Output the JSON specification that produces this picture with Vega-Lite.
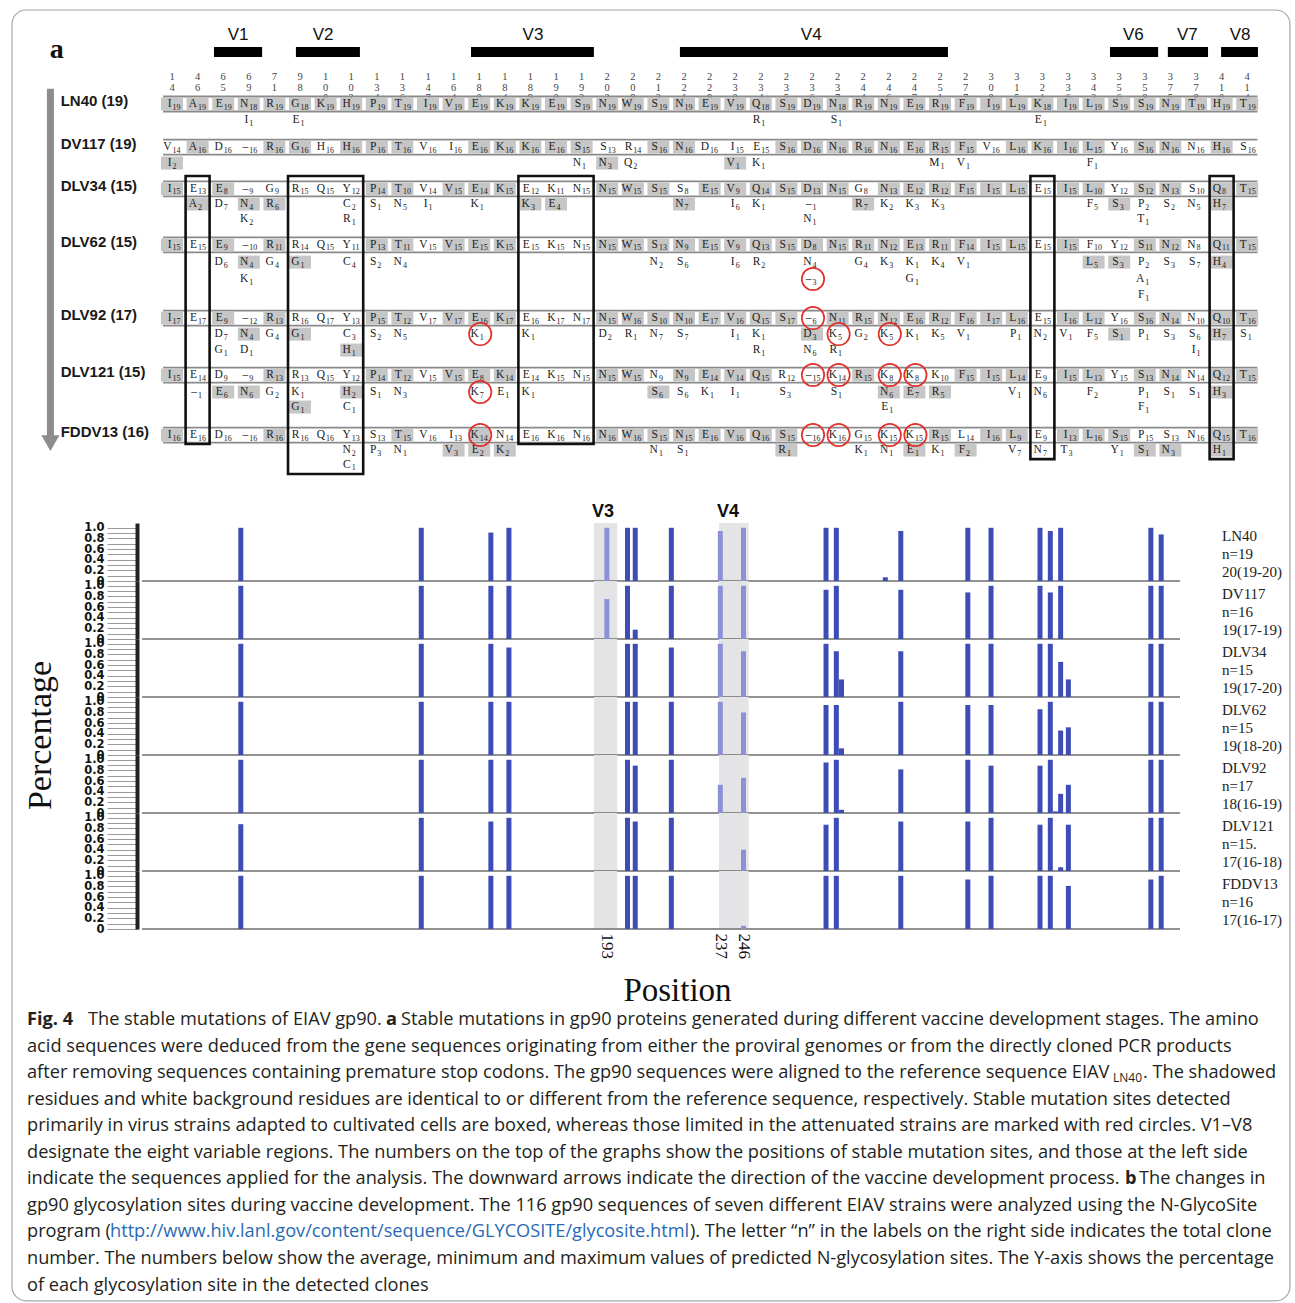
{
"$schema":"https://vega.github.io/schema/vega-lite/v6.json",
"background":"white",
"padding":0,
"spacing":0,
"bounds":"flush",
"config":{"view":{"stroke":null}},
"datasets":{
"rows":[{"lab":"LN40 (19)","l":0},{"lab":"DV117 (19)","l":2.69},{"lab":"DLV34 (15)","l":5.31},{"lab":"DLV62 (15)","l":8.81},{"lab":"DLV92 (17)","l":13.38},{"lab":"DLV121 (15)","l":16.94},{"lab":"FDDV13 (16)","l":20.69}],
"vreg":[{"v":"V1","c1":1.64,"c2":3.52,"m":2.58},{"v":"V2","c1":4.84,"c2":7.34,"m":5.9},{"v":"V3","c1":11.68,"c2":16.48,"m":14.1},{"v":"V4","c1":19.84,"c2":30.31,"m":24.97},{"v":"V6","c1":36.64,"c2":38.52,"m":37.55},{"v":"V7","c1":38.9,"c2":40.47,"m":39.66},{"v":"V8","c1":40.98,"c2":42.42,"m":41.72}],
"boxes":[{"c1":1,"c2":1,"t":5.31,"b":20.69},{"c1":5,"c2":7,"t":5.31,"b":22.56},{"c1":14,"c2":16,"t":5.31,"b":20.69},{"c1":34,"c2":34,"t":5.31,"b":21.63},{"c1":41,"c2":41,"t":5.31,"b":21.63}],
"cols":[{"c":0,"lab":"1\n4"},{"c":1,"lab":"4\n6"},{"c":2,"lab":"6\n5"},{"c":3,"lab":"6\n9"},{"c":4,"lab":"7\n1"},{"c":5,"lab":"9\n8"},{"c":6,"lab":"1\n0\n0"},{"c":7,"lab":"1\n0\n3"},{"c":8,"lab":"1\n3\n4"},{"c":9,"lab":"1\n3\n6"},{"c":10,"lab":"1\n4\n7"},{"c":11,"lab":"1\n6\n4"},{"c":12,"lab":"1\n8\n0"},{"c":13,"lab":"1\n8\n4"},{"c":14,"lab":"1\n8\n9"},{"c":15,"lab":"1\n9\n0"},{"c":16,"lab":"1\n9\n3"},{"c":17,"lab":"2\n0\n2"},{"c":18,"lab":"2\n0\n9"},{"c":19,"lab":"2\n1\n2"},{"c":20,"lab":"2\n2\n1"},{"c":21,"lab":"2\n2\n9"},{"c":22,"lab":"2\n3\n0"},{"c":23,"lab":"2\n3\n4"},{"c":24,"lab":"2\n3\n5"},{"c":25,"lab":"2\n3\n6"},{"c":26,"lab":"2\n3\n7"},{"c":27,"lab":"2\n4\n4"},{"c":28,"lab":"2\n4\n6"},{"c":29,"lab":"2\n4\n7"},{"c":30,"lab":"2\n5\n1"},{"c":31,"lab":"2\n7\n7"},{"c":32,"lab":"3\n0\n8"},{"c":33,"lab":"3\n1\n5"},{"c":34,"lab":"3\n2\n1"},{"c":35,"lab":"3\n3\n6"},{"c":36,"lab":"3\n4\n2"},{"c":37,"lab":"3\n5\n6"},{"c":38,"lab":"3\n5\n8"},{"c":39,"lab":"3\n7\n5"},{"c":40,"lab":"3\n7\n8"},{"c":41,"lab":"4\n1\n0"},{"c":42,"lab":"4\n1\n4"}],
"res":[
{"c":0,"l":0,"a":"I","n":"19","g":1},{"c":1,"l":0,"a":"A","n":"19","g":1},{"c":2,"l":0,"a":"E","n":"19","g":1},{"c":3,"l":0,"a":"N","n":"18","g":1},{"c":4,"l":0,"a":"R","n":"19","g":1},{"c":5,"l":0,"a":"G","n":"18","g":1},{"c":6,"l":0,"a":"K","n":"19","g":1},{"c":7,"l":0,"a":"H","n":"19","g":1},{"c":8,"l":0,"a":"P","n":"19","g":1},{"c":9,"l":0,"a":"T","n":"19","g":1},{"c":10,"l":0,"a":"I","n":"19","g":1},{"c":11,"l":0,"a":"V","n":"19","g":1},{"c":12,"l":0,"a":"E","n":"19","g":1},{"c":13,"l":0,"a":"K","n":"19","g":1},{"c":14,"l":0,"a":"K","n":"19","g":1},{"c":15,"l":0,"a":"E","n":"19","g":1},{"c":16,"l":0,"a":"S","n":"19","g":1},{"c":17,"l":0,"a":"N","n":"19","g":1},{"c":18,"l":0,"a":"W","n":"19","g":1},{"c":19,"l":0,"a":"S","n":"19","g":1},{"c":20,"l":0,"a":"N","n":"19","g":1},{"c":21,"l":0,"a":"E","n":"19","g":1},{"c":22,"l":0,"a":"V","n":"19","g":1},{"c":23,"l":0,"a":"Q","n":"18","g":1},{"c":24,"l":0,"a":"S","n":"19","g":1},{"c":25,"l":0,"a":"D","n":"19","g":1},{"c":26,"l":0,"a":"N","n":"18","g":1},{"c":27,"l":0,"a":"R","n":"19","g":1},{"c":28,"l":0,"a":"N","n":"19","g":1},{"c":29,"l":0,"a":"E","n":"19","g":1},{"c":30,"l":0,"a":"R","n":"19","g":1},{"c":31,"l":0,"a":"F","n":"19","g":1},{"c":32,"l":0,"a":"I","n":"19","g":1},{"c":33,"l":0,"a":"L","n":"19","g":1},{"c":34,"l":0,"a":"K","n":"18","g":1},{"c":35,"l":0,"a":"I","n":"19","g":1},{"c":36,"l":0,"a":"L","n":"19","g":1},{"c":37,"l":0,"a":"S","n":"19","g":1},{"c":38,"l":0,"a":"S","n":"19","g":1},{"c":39,"l":0,"a":"N","n":"19","g":1},{"c":40,"l":0,"a":"T","n":"19","g":1},{"c":41,"l":0,"a":"H","n":"19","g":1},{"c":42,"l":0,"a":"T","n":"19","g":1},
{"c":3,"l":1,"a":"I","n":"1"},{"c":5,"l":1,"a":"E","n":"1"},{"c":23,"l":1,"a":"R","n":"1"},{"c":26,"l":1,"a":"S","n":"1"},{"c":34,"l":1,"a":"E","n":"1"},
{"c":0,"l":2.69,"a":"V","n":"14"},{"c":1,"l":2.69,"a":"A","n":"16","g":1},{"c":2,"l":2.69,"a":"D","n":"16"},{"c":3,"l":2.69,"a":"–","n":"16"},{"c":4,"l":2.69,"a":"R","n":"16","g":1},{"c":5,"l":2.69,"a":"G","n":"16","g":1},{"c":6,"l":2.69,"a":"H","n":"16"},{"c":7,"l":2.69,"a":"H","n":"16","g":1},{"c":8,"l":2.69,"a":"P","n":"16","g":1},{"c":9,"l":2.69,"a":"T","n":"16","g":1},{"c":10,"l":2.69,"a":"V","n":"16"},{"c":11,"l":2.69,"a":"I","n":"16"},{"c":12,"l":2.69,"a":"E","n":"16","g":1},{"c":13,"l":2.69,"a":"K","n":"16","g":1},{"c":14,"l":2.69,"a":"K","n":"16","g":1},{"c":15,"l":2.69,"a":"E","n":"16","g":1},{"c":16,"l":2.69,"a":"S","n":"15","g":1},{"c":17,"l":2.69,"a":"S","n":"13"},{"c":18,"l":2.69,"a":"R","n":"14"},{"c":19,"l":2.69,"a":"S","n":"16","g":1},{"c":20,"l":2.69,"a":"N","n":"16","g":1},{"c":21,"l":2.69,"a":"D","n":"16"},{"c":22,"l":2.69,"a":"I","n":"15"},{"c":23,"l":2.69,"a":"E","n":"15"},{"c":24,"l":2.69,"a":"S","n":"16","g":1},{"c":25,"l":2.69,"a":"D","n":"16","g":1},{"c":26,"l":2.69,"a":"N","n":"16","g":1},{"c":27,"l":2.69,"a":"R","n":"16","g":1},{"c":28,"l":2.69,"a":"N","n":"16","g":1},{"c":29,"l":2.69,"a":"E","n":"16","g":1},{"c":30,"l":2.69,"a":"R","n":"15","g":1},{"c":31,"l":2.69,"a":"F","n":"15","g":1},{"c":32,"l":2.69,"a":"V","n":"16"},{"c":33,"l":2.69,"a":"L","n":"16","g":1},{"c":34,"l":2.69,"a":"K","n":"16","g":1},{"c":35,"l":2.69,"a":"I","n":"16","g":1},{"c":36,"l":2.69,"a":"L","n":"15","g":1},{"c":37,"l":2.69,"a":"Y","n":"16"},{"c":38,"l":2.69,"a":"S","n":"16","g":1},{"c":39,"l":2.69,"a":"N","n":"16","g":1},{"c":40,"l":2.69,"a":"N","n":"16"},{"c":41,"l":2.69,"a":"H","n":"16","g":1},{"c":42,"l":2.69,"a":"S","n":"16"},
{"c":0,"l":3.69,"a":"I","n":"2","g":1},{"c":16,"l":3.69,"a":"N","n":"1"},{"c":17,"l":3.69,"a":"N","n":"3","g":1},{"c":18,"l":3.69,"a":"Q","n":"2"},{"c":22,"l":3.69,"a":"V","n":"1","g":1},{"c":23,"l":3.69,"a":"K","n":"1"},{"c":30,"l":3.69,"a":"M","n":"1"},{"c":31,"l":3.69,"a":"V","n":"1"},{"c":36,"l":3.69,"a":"F","n":"1"},
{"c":0,"l":5.31,"a":"I","n":"15","g":1},{"c":1,"l":5.31,"a":"E","n":"13"},{"c":2,"l":5.31,"a":"E","n":"8","g":1},{"c":3,"l":5.31,"a":"–","n":"9"},{"c":4,"l":5.31,"a":"G","n":"9"},{"c":5,"l":5.31,"a":"R","n":"15"},{"c":6,"l":5.31,"a":"Q","n":"15"},{"c":7,"l":5.31,"a":"Y","n":"12"},{"c":8,"l":5.31,"a":"P","n":"14","g":1},{"c":9,"l":5.31,"a":"T","n":"10","g":1},{"c":10,"l":5.31,"a":"V","n":"14"},{"c":11,"l":5.31,"a":"V","n":"15","g":1},{"c":12,"l":5.31,"a":"E","n":"14","g":1},{"c":13,"l":5.31,"a":"K","n":"15","g":1},{"c":14,"l":5.31,"a":"E","n":"12"},{"c":15,"l":5.31,"a":"K","n":"11"},{"c":16,"l":5.31,"a":"N","n":"15"},{"c":17,"l":5.31,"a":"N","n":"15","g":1},{"c":18,"l":5.31,"a":"W","n":"15","g":1},{"c":19,"l":5.31,"a":"S","n":"15","g":1},{"c":20,"l":5.31,"a":"S","n":"8"},{"c":21,"l":5.31,"a":"E","n":"15","g":1},{"c":22,"l":5.31,"a":"V","n":"9","g":1},{"c":23,"l":5.31,"a":"Q","n":"14","g":1},{"c":24,"l":5.31,"a":"S","n":"15","g":1},{"c":25,"l":5.31,"a":"D","n":"13","g":1},{"c":26,"l":5.31,"a":"N","n":"15","g":1},{"c":27,"l":5.31,"a":"G","n":"8"},{"c":28,"l":5.31,"a":"N","n":"13","g":1},{"c":29,"l":5.31,"a":"E","n":"12","g":1},{"c":30,"l":5.31,"a":"R","n":"12","g":1},{"c":31,"l":5.31,"a":"F","n":"15","g":1},{"c":32,"l":5.31,"a":"I","n":"15","g":1},{"c":33,"l":5.31,"a":"L","n":"15","g":1},{"c":34,"l":5.31,"a":"E","n":"15"},{"c":35,"l":5.31,"a":"I","n":"15","g":1},{"c":36,"l":5.31,"a":"L","n":"10","g":1},{"c":37,"l":5.31,"a":"Y","n":"12"},{"c":38,"l":5.31,"a":"S","n":"12","g":1},{"c":39,"l":5.31,"a":"N","n":"13","g":1},{"c":40,"l":5.31,"a":"S","n":"10"},{"c":41,"l":5.31,"a":"Q","n":"8","g":1},{"c":42,"l":5.31,"a":"T","n":"15","g":1},
{"c":1,"l":6.25,"a":"A","n":"2","g":1},{"c":2,"l":6.25,"a":"D","n":"7"},{"c":3,"l":6.25,"a":"N","n":"4","g":1},{"c":4,"l":6.25,"a":"R","n":"6","g":1},{"c":7,"l":6.25,"a":"C","n":"2"},{"c":8,"l":6.25,"a":"S","n":"1"},{"c":9,"l":6.25,"a":"N","n":"5"},{"c":10,"l":6.25,"a":"I","n":"1"},{"c":12,"l":6.25,"a":"K","n":"1"},{"c":14,"l":6.25,"a":"K","n":"3","g":1},{"c":15,"l":6.25,"a":"E","n":"4","g":1},{"c":20,"l":6.25,"a":"N","n":"7","g":1},{"c":22,"l":6.25,"a":"I","n":"6"},{"c":23,"l":6.25,"a":"K","n":"1"},{"c":25,"l":6.25,"a":"–","n":"1"},{"c":27,"l":6.25,"a":"R","n":"7","g":1},{"c":28,"l":6.25,"a":"K","n":"2"},{"c":29,"l":6.25,"a":"K","n":"3"},{"c":30,"l":6.25,"a":"K","n":"3"},{"c":36,"l":6.25,"a":"F","n":"5"},{"c":37,"l":6.25,"a":"S","n":"3","g":1},{"c":38,"l":6.25,"a":"P","n":"2"},{"c":39,"l":6.25,"a":"S","n":"2"},{"c":40,"l":6.25,"a":"N","n":"5"},{"c":41,"l":6.25,"a":"H","n":"7","g":1},
{"c":3,"l":7.19,"a":"K","n":"2"},{"c":7,"l":7.19,"a":"R","n":"1"},{"c":25,"l":7.19,"a":"N","n":"1"},{"c":38,"l":7.19,"a":"T","n":"1"},
{"c":0,"l":8.81,"a":"I","n":"15","g":1},{"c":1,"l":8.81,"a":"E","n":"15"},{"c":2,"l":8.81,"a":"E","n":"9","g":1},{"c":3,"l":8.81,"a":"–","n":"10"},{"c":4,"l":8.81,"a":"R","n":"11","g":1},{"c":5,"l":8.81,"a":"R","n":"14"},{"c":6,"l":8.81,"a":"Q","n":"15"},{"c":7,"l":8.81,"a":"Y","n":"11"},{"c":8,"l":8.81,"a":"P","n":"13","g":1},{"c":9,"l":8.81,"a":"T","n":"11","g":1},{"c":10,"l":8.81,"a":"V","n":"15"},{"c":11,"l":8.81,"a":"V","n":"15","g":1},{"c":12,"l":8.81,"a":"E","n":"15","g":1},{"c":13,"l":8.81,"a":"K","n":"15","g":1},{"c":14,"l":8.81,"a":"E","n":"15"},{"c":15,"l":8.81,"a":"K","n":"15"},{"c":16,"l":8.81,"a":"N","n":"15"},{"c":17,"l":8.81,"a":"N","n":"15","g":1},{"c":18,"l":8.81,"a":"W","n":"15","g":1},{"c":19,"l":8.81,"a":"S","n":"13","g":1},{"c":20,"l":8.81,"a":"N","n":"9","g":1},{"c":21,"l":8.81,"a":"E","n":"15","g":1},{"c":22,"l":8.81,"a":"V","n":"9","g":1},{"c":23,"l":8.81,"a":"Q","n":"13","g":1},{"c":24,"l":8.81,"a":"S","n":"15","g":1},{"c":25,"l":8.81,"a":"D","n":"8","g":1},{"c":26,"l":8.81,"a":"N","n":"15","g":1},{"c":27,"l":8.81,"a":"R","n":"11","g":1},{"c":28,"l":8.81,"a":"N","n":"12","g":1},{"c":29,"l":8.81,"a":"E","n":"13","g":1},{"c":30,"l":8.81,"a":"R","n":"11","g":1},{"c":31,"l":8.81,"a":"F","n":"14","g":1},{"c":32,"l":8.81,"a":"I","n":"15","g":1},{"c":33,"l":8.81,"a":"L","n":"15","g":1},{"c":34,"l":8.81,"a":"E","n":"15"},{"c":35,"l":8.81,"a":"I","n":"15","g":1},{"c":36,"l":8.81,"a":"F","n":"10"},{"c":37,"l":8.81,"a":"Y","n":"12"},{"c":38,"l":8.81,"a":"S","n":"11","g":1},{"c":39,"l":8.81,"a":"N","n":"12","g":1},{"c":40,"l":8.81,"a":"N","n":"8"},{"c":41,"l":8.81,"a":"Q","n":"11","g":1},{"c":42,"l":8.81,"a":"T","n":"15","g":1},
{"c":2,"l":9.88,"a":"D","n":"6"},{"c":3,"l":9.88,"a":"N","n":"4","g":1},{"c":4,"l":9.88,"a":"G","n":"4"},{"c":5,"l":9.88,"a":"G","n":"1","g":1},{"c":7,"l":9.88,"a":"C","n":"4"},{"c":8,"l":9.88,"a":"S","n":"2"},{"c":9,"l":9.88,"a":"N","n":"4"},{"c":19,"l":9.88,"a":"N","n":"2"},{"c":20,"l":9.88,"a":"S","n":"6"},{"c":22,"l":9.88,"a":"I","n":"6"},{"c":23,"l":9.88,"a":"R","n":"2"},{"c":25,"l":9.88,"a":"N","n":"4"},{"c":27,"l":9.88,"a":"G","n":"4"},{"c":28,"l":9.88,"a":"K","n":"3"},{"c":29,"l":9.88,"a":"K","n":"1"},{"c":30,"l":9.88,"a":"K","n":"4"},{"c":31,"l":9.88,"a":"V","n":"1"},{"c":36,"l":9.88,"a":"L","n":"5","g":1},{"c":37,"l":9.88,"a":"S","n":"3","g":1},{"c":38,"l":9.88,"a":"P","n":"2"},{"c":39,"l":9.88,"a":"S","n":"3"},{"c":40,"l":9.88,"a":"S","n":"7"},{"c":41,"l":9.88,"a":"H","n":"4","g":1},
{"c":3,"l":10.94,"a":"K","n":"1"},{"c":25,"l":10.94,"a":"–","n":"3","o":1},{"c":29,"l":10.94,"a":"G","n":"1"},{"c":38,"l":10.94,"a":"A","n":"1"},
{"c":38,"l":11.94,"a":"F","n":"1"},
{"c":0,"l":13.38,"a":"I","n":"17","g":1},{"c":1,"l":13.38,"a":"E","n":"17"},{"c":2,"l":13.38,"a":"E","n":"9","g":1},{"c":3,"l":13.38,"a":"–","n":"12"},{"c":4,"l":13.38,"a":"R","n":"13","g":1},{"c":5,"l":13.38,"a":"R","n":"16"},{"c":6,"l":13.38,"a":"Q","n":"17"},{"c":7,"l":13.38,"a":"Y","n":"13"},{"c":8,"l":13.38,"a":"P","n":"15","g":1},{"c":9,"l":13.38,"a":"T","n":"12","g":1},{"c":10,"l":13.38,"a":"V","n":"17"},{"c":11,"l":13.38,"a":"V","n":"17","g":1},{"c":12,"l":13.38,"a":"E","n":"16","g":1},{"c":13,"l":13.38,"a":"K","n":"17","g":1},{"c":14,"l":13.38,"a":"E","n":"16"},{"c":15,"l":13.38,"a":"K","n":"17"},{"c":16,"l":13.38,"a":"N","n":"17"},{"c":17,"l":13.38,"a":"N","n":"15","g":1},{"c":18,"l":13.38,"a":"W","n":"16","g":1},{"c":19,"l":13.38,"a":"S","n":"10","g":1},{"c":20,"l":13.38,"a":"N","n":"10","g":1},{"c":21,"l":13.38,"a":"E","n":"17","g":1},{"c":22,"l":13.38,"a":"V","n":"16","g":1},{"c":23,"l":13.38,"a":"Q","n":"15","g":1},{"c":24,"l":13.38,"a":"S","n":"17","g":1},{"c":25,"l":13.38,"a":"–","n":"6","o":1},{"c":26,"l":13.38,"a":"N","n":"11","g":1},{"c":27,"l":13.38,"a":"R","n":"15","g":1},{"c":28,"l":13.38,"a":"N","n":"12","g":1},{"c":29,"l":13.38,"a":"E","n":"16","g":1},{"c":30,"l":13.38,"a":"R","n":"12","g":1},{"c":31,"l":13.38,"a":"F","n":"16","g":1},{"c":32,"l":13.38,"a":"I","n":"17","g":1},{"c":33,"l":13.38,"a":"L","n":"16","g":1},{"c":34,"l":13.38,"a":"E","n":"15"},{"c":35,"l":13.38,"a":"I","n":"16","g":1},{"c":36,"l":13.38,"a":"L","n":"12","g":1},{"c":37,"l":13.38,"a":"Y","n":"16"},{"c":38,"l":13.38,"a":"S","n":"16","g":1},{"c":39,"l":13.38,"a":"N","n":"14","g":1},{"c":40,"l":13.38,"a":"N","n":"10"},{"c":41,"l":13.38,"a":"Q","n":"10","g":1},{"c":42,"l":13.38,"a":"T","n":"16","g":1},
{"c":2,"l":14.38,"a":"D","n":"7"},{"c":3,"l":14.38,"a":"N","n":"4","g":1},{"c":4,"l":14.38,"a":"G","n":"4"},{"c":5,"l":14.38,"a":"G","n":"1","g":1},{"c":7,"l":14.38,"a":"C","n":"3"},{"c":8,"l":14.38,"a":"S","n":"2"},{"c":9,"l":14.38,"a":"N","n":"5"},{"c":12,"l":14.38,"a":"K","n":"1","o":1},{"c":14,"l":14.38,"a":"K","n":"1"},{"c":17,"l":14.38,"a":"D","n":"2"},{"c":18,"l":14.38,"a":"R","n":"1"},{"c":19,"l":14.38,"a":"N","n":"7"},{"c":20,"l":14.38,"a":"S","n":"7"},{"c":22,"l":14.38,"a":"I","n":"1"},{"c":23,"l":14.38,"a":"K","n":"1"},{"c":25,"l":14.38,"a":"D","n":"3","g":1},{"c":26,"l":14.38,"a":"K","n":"5","o":1},{"c":27,"l":14.38,"a":"G","n":"2"},{"c":28,"l":14.38,"a":"K","n":"5","o":1},{"c":29,"l":14.38,"a":"K","n":"1"},{"c":30,"l":14.38,"a":"K","n":"5"},{"c":31,"l":14.38,"a":"V","n":"1"},{"c":33,"l":14.38,"a":"P","n":"1"},{"c":34,"l":14.38,"a":"N","n":"2"},{"c":35,"l":14.38,"a":"V","n":"1"},{"c":36,"l":14.38,"a":"F","n":"5"},{"c":37,"l":14.38,"a":"S","n":"1","g":1},{"c":38,"l":14.38,"a":"P","n":"1"},{"c":39,"l":14.38,"a":"S","n":"3"},{"c":40,"l":14.38,"a":"S","n":"6"},{"c":41,"l":14.38,"a":"H","n":"7","g":1},{"c":42,"l":14.38,"a":"S","n":"1"},
{"c":2,"l":15.38,"a":"G","n":"1"},{"c":3,"l":15.38,"a":"D","n":"1"},{"c":7,"l":15.38,"a":"H","n":"1","g":1},{"c":23,"l":15.38,"a":"R","n":"1"},{"c":25,"l":15.38,"a":"N","n":"6"},{"c":26,"l":15.38,"a":"R","n":"1"},{"c":40,"l":15.38,"a":"I","n":"1"},
{"c":0,"l":16.94,"a":"I","n":"15","g":1},{"c":1,"l":16.94,"a":"E","n":"14"},{"c":2,"l":16.94,"a":"D","n":"9"},{"c":3,"l":16.94,"a":"–","n":"9"},{"c":4,"l":16.94,"a":"R","n":"13","g":1},{"c":5,"l":16.94,"a":"R","n":"13"},{"c":6,"l":16.94,"a":"Q","n":"15"},{"c":7,"l":16.94,"a":"Y","n":"12"},{"c":8,"l":16.94,"a":"P","n":"14","g":1},{"c":9,"l":16.94,"a":"T","n":"12","g":1},{"c":10,"l":16.94,"a":"V","n":"15"},{"c":11,"l":16.94,"a":"V","n":"15","g":1},{"c":12,"l":16.94,"a":"E","n":"8","g":1},{"c":13,"l":16.94,"a":"K","n":"14","g":1},{"c":14,"l":16.94,"a":"E","n":"14"},{"c":15,"l":16.94,"a":"K","n":"15"},{"c":16,"l":16.94,"a":"N","n":"15"},{"c":17,"l":16.94,"a":"N","n":"15","g":1},{"c":18,"l":16.94,"a":"W","n":"15","g":1},{"c":19,"l":16.94,"a":"N","n":"9"},{"c":20,"l":16.94,"a":"N","n":"9","g":1},{"c":21,"l":16.94,"a":"E","n":"14","g":1},{"c":22,"l":16.94,"a":"V","n":"14","g":1},{"c":23,"l":16.94,"a":"Q","n":"15","g":1},{"c":24,"l":16.94,"a":"R","n":"12"},{"c":25,"l":16.94,"a":"–","n":"15","o":1},{"c":26,"l":16.94,"a":"K","n":"14","o":1},{"c":27,"l":16.94,"a":"R","n":"15","g":1},{"c":28,"l":16.94,"a":"K","n":"8","o":1},{"c":29,"l":16.94,"a":"K","n":"8","o":1},{"c":30,"l":16.94,"a":"K","n":"10"},{"c":31,"l":16.94,"a":"F","n":"15","g":1},{"c":32,"l":16.94,"a":"I","n":"15","g":1},{"c":33,"l":16.94,"a":"L","n":"14","g":1},{"c":34,"l":16.94,"a":"E","n":"9"},{"c":35,"l":16.94,"a":"I","n":"15","g":1},{"c":36,"l":16.94,"a":"L","n":"13","g":1},{"c":37,"l":16.94,"a":"Y","n":"15"},{"c":38,"l":16.94,"a":"S","n":"13","g":1},{"c":39,"l":16.94,"a":"N","n":"14","g":1},{"c":40,"l":16.94,"a":"N","n":"14"},{"c":41,"l":16.94,"a":"Q","n":"12","g":1},{"c":42,"l":16.94,"a":"T","n":"15","g":1},
{"c":1,"l":18,"a":"–","n":"1"},{"c":2,"l":18,"a":"E","n":"6","g":1},{"c":3,"l":18,"a":"N","n":"6","g":1},{"c":4,"l":18,"a":"G","n":"2"},{"c":5,"l":18,"a":"K","n":"1"},{"c":7,"l":18,"a":"H","n":"2","g":1},{"c":8,"l":18,"a":"S","n":"1"},{"c":9,"l":18,"a":"N","n":"3"},{"c":12,"l":18,"a":"K","n":"7","o":1},{"c":13,"l":18,"a":"E","n":"1"},{"c":14,"l":18,"a":"K","n":"1"},{"c":19,"l":18,"a":"S","n":"6","g":1},{"c":20,"l":18,"a":"S","n":"6"},{"c":21,"l":18,"a":"K","n":"1"},{"c":22,"l":18,"a":"I","n":"1"},{"c":24,"l":18,"a":"S","n":"3"},{"c":26,"l":18,"a":"S","n":"1"},{"c":28,"l":18,"a":"N","n":"6","g":1},{"c":29,"l":18,"a":"E","n":"7","g":1},{"c":30,"l":18,"a":"R","n":"5","g":1},{"c":33,"l":18,"a":"V","n":"1"},{"c":34,"l":18,"a":"N","n":"6"},{"c":36,"l":18,"a":"F","n":"2"},{"c":38,"l":18,"a":"P","n":"1"},{"c":39,"l":18,"a":"S","n":"1"},{"c":40,"l":18,"a":"S","n":"1"},{"c":41,"l":18,"a":"H","n":"3","g":1},
{"c":5,"l":18.94,"a":"G","n":"1","g":1},{"c":7,"l":18.94,"a":"C","n":"1"},{"c":28,"l":18.94,"a":"E","n":"1"},{"c":38,"l":18.94,"a":"F","n":"1"},
{"c":0,"l":20.69,"a":"I","n":"16","g":1},{"c":1,"l":20.69,"a":"E","n":"16"},{"c":2,"l":20.69,"a":"D","n":"16"},{"c":3,"l":20.69,"a":"–","n":"16"},{"c":4,"l":20.69,"a":"R","n":"16","g":1},{"c":5,"l":20.69,"a":"R","n":"16"},{"c":6,"l":20.69,"a":"Q","n":"16"},{"c":7,"l":20.69,"a":"Y","n":"13"},{"c":8,"l":20.69,"a":"S","n":"13"},{"c":9,"l":20.69,"a":"T","n":"15","g":1},{"c":10,"l":20.69,"a":"V","n":"16"},{"c":11,"l":20.69,"a":"I","n":"13"},{"c":12,"l":20.69,"a":"K","n":"14","g":1,"o":1},{"c":13,"l":20.69,"a":"N","n":"14"},{"c":14,"l":20.69,"a":"E","n":"16"},{"c":15,"l":20.69,"a":"K","n":"16"},{"c":16,"l":20.69,"a":"N","n":"16"},{"c":17,"l":20.69,"a":"N","n":"16","g":1},{"c":18,"l":20.69,"a":"W","n":"16","g":1},{"c":19,"l":20.69,"a":"S","n":"15","g":1},{"c":20,"l":20.69,"a":"N","n":"15","g":1},{"c":21,"l":20.69,"a":"E","n":"16","g":1},{"c":22,"l":20.69,"a":"V","n":"16","g":1},{"c":23,"l":20.69,"a":"Q","n":"16","g":1},{"c":24,"l":20.69,"a":"S","n":"15","g":1},{"c":25,"l":20.69,"a":"–","n":"16","o":1},{"c":26,"l":20.69,"a":"K","n":"16","o":1},{"c":27,"l":20.69,"a":"G","n":"15"},{"c":28,"l":20.69,"a":"K","n":"15","o":1},{"c":29,"l":20.69,"a":"K","n":"15","o":1},{"c":30,"l":20.69,"a":"R","n":"15","g":1},{"c":31,"l":20.69,"a":"L","n":"14"},{"c":32,"l":20.69,"a":"I","n":"16","g":1},{"c":33,"l":20.69,"a":"L","n":"9","g":1},{"c":34,"l":20.69,"a":"E","n":"9"},{"c":35,"l":20.69,"a":"I","n":"13","g":1},{"c":36,"l":20.69,"a":"L","n":"16","g":1},{"c":37,"l":20.69,"a":"S","n":"15","g":1},{"c":38,"l":20.69,"a":"P","n":"15"},{"c":39,"l":20.69,"a":"S","n":"13"},{"c":40,"l":20.69,"a":"N","n":"16"},{"c":41,"l":20.69,"a":"Q","n":"15","g":1},{"c":42,"l":20.69,"a":"T","n":"16","g":1},
{"c":7,"l":21.63,"a":"N","n":"2"},{"c":8,"l":21.63,"a":"P","n":"3"},{"c":9,"l":21.63,"a":"N","n":"1"},{"c":11,"l":21.63,"a":"V","n":"3","g":1},{"c":12,"l":21.63,"a":"E","n":"2","g":1},{"c":13,"l":21.63,"a":"K","n":"2","g":1},{"c":19,"l":21.63,"a":"N","n":"1"},{"c":20,"l":21.63,"a":"S","n":"1"},{"c":24,"l":21.63,"a":"R","n":"1","g":1},{"c":27,"l":21.63,"a":"K","n":"1"},{"c":28,"l":21.63,"a":"N","n":"1"},{"c":29,"l":21.63,"a":"E","n":"1","g":1},{"c":30,"l":21.63,"a":"K","n":"1"},{"c":31,"l":21.63,"a":"F","n":"2","g":1},{"c":33,"l":21.63,"a":"V","n":"7"},{"c":34,"l":21.63,"a":"N","n":"7"},{"c":35,"l":21.63,"a":"T","n":"3"},{"c":37,"l":21.63,"a":"Y","n":"1"},{"c":38,"l":21.63,"a":"S","n":"1","g":1},{"c":39,"l":21.63,"a":"N","n":"3","g":1},{"c":41,"l":21.63,"a":"H","n":"1","g":1},
{"c":7,"l":22.56,"a":"C","n":"1"}
],
"reg":[{"r":"V3","a":188,"b":197},{"r":"V4","a":236.5,"b":248}],
"bars":[
{"s":"LN40","p":51,"y":1},{"s":"LN40","p":121,"y":1},{"s":"LN40","p":148,"y":0.91},{"s":"LN40","p":155,"y":1},{"s":"LN40","p":193,"y":1,"v":1},{"s":"LN40","p":201,"y":1},{"s":"LN40","p":204,"y":1},{"s":"LN40","p":218,"y":1},{"s":"LN40","p":237,"y":0.94,"v":1},{"s":"LN40","p":246,"y":1,"v":1},{"s":"LN40","p":278,"y":1},{"s":"LN40","p":282,"y":1},{"s":"LN40","p":301,"y":0.07},{"s":"LN40","p":307,"y":0.94},{"s":"LN40","p":333,"y":1},{"s":"LN40","p":342,"y":1},{"s":"LN40","p":361,"y":1},{"s":"LN40","p":365,"y":0.94},{"s":"LN40","p":369,"y":1},{"s":"LN40","p":404,"y":1},{"s":"LN40","p":408,"y":0.875},
{"s":"DV117","p":51,"y":1},{"s":"DV117","p":121,"y":1},{"s":"DV117","p":148,"y":1},{"s":"DV117","p":155,"y":1},{"s":"DV117","p":193,"y":0.75,"v":1},{"s":"DV117","p":201,"y":1},{"s":"DV117","p":204,"y":0.175},{"s":"DV117","p":218,"y":1},{"s":"DV117","p":237,"y":1,"v":1},{"s":"DV117","p":246,"y":1,"v":1},{"s":"DV117","p":278,"y":0.925},{"s":"DV117","p":282,"y":1},{"s":"DV117","p":307,"y":0.925},{"s":"DV117","p":333,"y":0.875},{"s":"DV117","p":342,"y":1},{"s":"DV117","p":361,"y":1},{"s":"DV117","p":365,"y":0.875},{"s":"DV117","p":369,"y":1},{"s":"DV117","p":404,"y":1},{"s":"DV117","p":408,"y":1},
{"s":"DLV34","p":51,"y":1},{"s":"DLV34","p":121,"y":1},{"s":"DLV34","p":148,"y":1},{"s":"DLV34","p":155,"y":0.93},{"s":"DLV34","p":201,"y":1},{"s":"DLV34","p":204,"y":1},{"s":"DLV34","p":218,"y":0.93},{"s":"DLV34","p":237,"y":1,"v":1},{"s":"DLV34","p":246,"y":0.86,"v":1},{"s":"DLV34","p":278,"y":1},{"s":"DLV34","p":282,"y":0.86},{"s":"DLV34","p":284,"y":0.33},{"s":"DLV34","p":307,"y":0.86},{"s":"DLV34","p":333,"y":1},{"s":"DLV34","p":342,"y":1},{"s":"DLV34","p":361,"y":1},{"s":"DLV34","p":365,"y":1},{"s":"DLV34","p":369,"y":0.66},{"s":"DLV34","p":372,"y":0.33},{"s":"DLV34","p":404,"y":1},{"s":"DLV34","p":408,"y":1},
{"s":"DLV62","p":51,"y":1},{"s":"DLV62","p":121,"y":1},{"s":"DLV62","p":148,"y":1},{"s":"DLV62","p":155,"y":1},{"s":"DLV62","p":201,"y":1},{"s":"DLV62","p":204,"y":1},{"s":"DLV62","p":218,"y":1},{"s":"DLV62","p":237,"y":1,"v":1},{"s":"DLV62","p":246,"y":0.8,"v":1},{"s":"DLV62","p":278,"y":0.94},{"s":"DLV62","p":282,"y":0.94},{"s":"DLV62","p":284,"y":0.125},{"s":"DLV62","p":307,"y":1},{"s":"DLV62","p":333,"y":0.94},{"s":"DLV62","p":342,"y":0.94},{"s":"DLV62","p":361,"y":0.86},{"s":"DLV62","p":365,"y":1},{"s":"DLV62","p":369,"y":0.46},{"s":"DLV62","p":372,"y":0.52},{"s":"DLV62","p":404,"y":1},{"s":"DLV62","p":408,"y":1},
{"s":"DLV92","p":51,"y":1},{"s":"DLV92","p":121,"y":1},{"s":"DLV92","p":148,"y":1},{"s":"DLV92","p":155,"y":1},{"s":"DLV92","p":201,"y":1},{"s":"DLV92","p":204,"y":0.89},{"s":"DLV92","p":218,"y":1},{"s":"DLV92","p":237,"y":0.53,"v":1},{"s":"DLV92","p":246,"y":0.66,"v":1},{"s":"DLV92","p":278,"y":0.95},{"s":"DLV92","p":282,"y":1},{"s":"DLV92","p":284,"y":0.06},{"s":"DLV92","p":307,"y":0.82},{"s":"DLV92","p":333,"y":1},{"s":"DLV92","p":342,"y":0.89},{"s":"DLV92","p":361,"y":0.89},{"s":"DLV92","p":365,"y":1},{"s":"DLV92","p":367,"y":0.03},{"s":"DLV92","p":369,"y":0.36},{"s":"DLV92","p":372,"y":0.53},{"s":"DLV92","p":404,"y":1},{"s":"DLV92","p":408,"y":1},
{"s":"DLV121","p":51,"y":0.88},{"s":"DLV121","p":121,"y":1},{"s":"DLV121","p":148,"y":0.93},{"s":"DLV121","p":155,"y":1},{"s":"DLV121","p":201,"y":1},{"s":"DLV121","p":204,"y":0.93},{"s":"DLV121","p":218,"y":1},{"s":"DLV121","p":246,"y":0.4,"v":1},{"s":"DLV121","p":278,"y":0.87},{"s":"DLV121","p":282,"y":1},{"s":"DLV121","p":307,"y":0.93},{"s":"DLV121","p":333,"y":0.93},{"s":"DLV121","p":342,"y":1},{"s":"DLV121","p":361,"y":0.87},{"s":"DLV121","p":365,"y":1},{"s":"DLV121","p":369,"y":0.07},{"s":"DLV121","p":372,"y":0.87},{"s":"DLV121","p":404,"y":1},{"s":"DLV121","p":408,"y":1},
{"s":"FDDV13","p":51,"y":1},{"s":"FDDV13","p":121,"y":1},{"s":"FDDV13","p":148,"y":1},{"s":"FDDV13","p":155,"y":1},{"s":"FDDV13","p":201,"y":1},{"s":"FDDV13","p":204,"y":1},{"s":"FDDV13","p":218,"y":1},{"s":"FDDV13","p":246,"y":0.06,"v":1},{"s":"FDDV13","p":278,"y":1},{"s":"FDDV13","p":282,"y":1},{"s":"FDDV13","p":307,"y":1},{"s":"FDDV13","p":333,"y":0.93},{"s":"FDDV13","p":342,"y":1},{"s":"FDDV13","p":361,"y":1},{"s":"FDDV13","p":365,"y":1},{"s":"FDDV13","p":372,"y":0.81},{"s":"FDDV13","p":404,"y":0.93},{"s":"FDDV13","p":408,"y":1}
],
"cap":[
{"i":1,"k":"b0","t":"Fig. 4"},
{"i":1,"k":"r1","t":"The stable mutations of EIAV gp90."},
{"i":1,"k":"b1","t":"a"},
{"i":1,"k":"r2","t":"Stable mutations in gp90 proteins generated during different vaccine development stages. The amino"},
{"i":2,"k":"L","t":"acid sequences were deduced from the gene sequences originating from either the proviral genomes or from the directly cloned PCR products"},
{"i":3,"k":"L","t":"after removing sequences containing premature stop codons. The gp90 sequences were aligned to the reference sequence EIAV"},
{"i":3,"k":"sub","t":"LN40"},
{"i":3,"k":"r3","t":". The shadowed"},
{"i":4,"k":"L","t":"residues and white background residues are identical to or different from the reference sequence, respectively. Stable mutation sites detected"},
{"i":5,"k":"L","t":"primarily in virus strains adapted to cultivated cells are boxed, whereas those limited in the attenuated strains are marked with red circles. V1–V8"},
{"i":6,"k":"L","t":"designate the eight variable regions. The numbers on the top of the graphs show the positions of stable mutation sites, and those at the left side"},
{"i":7,"k":"L","t":"indicate the sequences applied for the analysis. The downward arrows indicate the direction of the vaccine development process."},
{"i":7,"k":"b2","t":"b"},
{"i":7,"k":"r4","t":"The changes in"},
{"i":8,"k":"L","t":"gp90 glycosylation sites during vaccine development. The 116 gp90 sequences of seven different EIAV strains were analyzed using the N-GlycoSite"},
{"i":9,"k":"L","t":"program ("},
{"i":9,"k":"url","t":"http://www.hiv.lanl.gov/content/sequence/GLYCOSITE/glycosite.html"},
{"i":9,"k":"r5","t":"). The letter “n” in the labels on the right side indicates the total clone"},
{"i":10,"k":"L","t":"number. The numbers below show the average, minimum and maximum values of predicted N-glycosylation sites. The Y-axis shows the percentage"},
{"i":11,"k":"L","t":"of each glycosylation site in the detected clones"}
]
},
"vconcat":[
{"width":1295,"height":523,
"layer":[
{"data":{"values":[{}]},"mark":{"type":"rect","fillOpacity":0,"stroke":"#a8a8a8","strokeWidth":1.2,"cornerRadius":14},
"encoding":{"x":{"datum":-6.25,"type":"quantitative","scale":{"domain":[-6.719,43.867],"nice":false,"zero":false},"axis":null},"x2":{"datum":43.67},"y":{"datum":-5.875,"type":"quantitative","scale":{"domain":[-6.5,26.1875],"reverse":true,"nice":false,"zero":false},"axis":null},"y2":{"datum":74.8}}},
{"data":{"values":[{}]},"mark":{"type":"rule","color":"#8d8d8d","strokeWidth":7},
"encoding":{"x":{"datum":-4.75,"type":"quantitative","scale":{"domain":[-6.719,43.867],"nice":false,"zero":false},"axis":null},"y":{"datum":-0.95,"type":"quantitative","scale":{"domain":[-6.5,26.1875],"reverse":true,"nice":false,"zero":false},"axis":null},"y2":{"datum":20.75}}},
{"data":{"values":[{}]},"mark":{"type":"point","shape":"triangle-down","filled":true,"color":"#8d8d8d","size":330,"opacity":1},
"encoding":{"x":{"datum":-4.75,"type":"quantitative","scale":{"domain":[-6.719,43.867],"nice":false,"zero":false},"axis":null},"y":{"datum":21.2,"type":"quantitative","scale":{"domain":[-6.5,26.1875],"reverse":true,"nice":false,"zero":false},"axis":null}}},
{"data":{"values":[{"t":"a"}]},"mark":{"type":"text","font":"Liberation Serif","fontWeight":"bold","fontSize":28,"align":"center","baseline":"middle","color":"#111"},
"encoding":{"x":{"datum":-4.5,"type":"quantitative","scale":{"domain":[-6.719,43.867],"nice":false,"zero":false},"axis":null},"y":{"datum":-3.4,"type":"quantitative","scale":{"domain":[-6.5,26.1875],"reverse":true,"nice":false,"zero":false},"axis":null},"text":{"field":"t"}}},
{"data":{"name":"vreg"},"mark":{"type":"rect","color":"#000000"},
"encoding":{"x":{"field":"c1","type":"quantitative","scale":{"domain":[-6.719,43.867],"nice":false,"zero":false},"axis":null},"x2":{"field":"c2"},"y":{"datum":-3.56,"type":"quantitative","scale":{"domain":[-6.5,26.1875],"reverse":true,"nice":false,"zero":false},"axis":null},"y2":{"datum":-2.94}}},
{"data":{"name":"vreg"},"mark":{"type":"text","font":"Liberation Sans","fontSize":17,"align":"center","baseline":"middle","color":"#111"},
"encoding":{"x":{"field":"m","type":"quantitative","scale":{"domain":[-6.719,43.867],"nice":false,"zero":false},"axis":null},"y":{"datum":-4.3,"type":"quantitative","scale":{"domain":[-6.5,26.1875],"reverse":true,"nice":false,"zero":false},"axis":null},"text":{"field":"v"}}},
{"data":{"name":"cols"},"mark":{"type":"text","font":"Liberation Serif","fontSize":10.5,"lineHeight":10.5,"lineBreak":"\n","align":"center","baseline":"middle","color":"#444"},
"encoding":{"x":{"field":"c","type":"quantitative","scale":{"domain":[-6.719,43.867],"nice":false,"zero":false},"axis":null},"y":{"datum":-1.66,"type":"quantitative","scale":{"domain":[-6.5,26.1875],"reverse":true,"nice":false,"zero":false},"axis":null},"text":{"field":"lab"}}},
{"data":{"name":"rows"},"mark":{"type":"text","font":"Liberation Sans","fontWeight":"bold","fontSize":15,"align":"left","baseline":"middle","dy":-3,"color":"#1a1a1a"},
"encoding":{"x":{"datum":-4.35,"type":"quantitative","scale":{"domain":[-6.719,43.867],"nice":false,"zero":false},"axis":null},"y":{"field":"l","type":"quantitative","scale":{"domain":[-6.5,26.1875],"reverse":true,"nice":false,"zero":false},"axis":null},"text":{"field":"lab"}}},
{"data":{"name":"rows"},"mark":{"type":"rule","color":"#8a8a8a","strokeWidth":1.8,"yOffset":-7.5},
"encoding":{"x":{"datum":-0.35,"type":"quantitative","scale":{"domain":[-6.719,43.867],"nice":false,"zero":false},"axis":null},"x2":{"datum":42.4},"y":{"field":"l","type":"quantitative","scale":{"domain":[-6.5,26.1875],"reverse":true,"nice":false,"zero":false},"axis":null}}},
{"data":{"name":"rows"},"mark":{"type":"rule","color":"#8a8a8a","strokeWidth":1.8,"yOffset":7.5},
"encoding":{"x":{"datum":-0.35,"type":"quantitative","scale":{"domain":[-6.719,43.867],"nice":false,"zero":false},"axis":null},"x2":{"datum":42.4},"y":{"field":"l","type":"quantitative","scale":{"domain":[-6.5,26.1875],"reverse":true,"nice":false,"zero":false},"axis":null}}},
{"data":{"name":"res"},"transform":[{"filter":"datum.g==1"}],"mark":{"type":"point","shape":"M-1.57,-0.93L1.57,-0.93L1.57,0.93L-1.57,0.93Z","size":196,"filled":true,"color":"#c6c6c6","opacity":1,"strokeWidth":0},
"encoding":{"x":{"field":"c","type":"quantitative","scale":{"domain":[-6.719,43.867],"nice":false,"zero":false},"axis":null},"y":{"field":"l","type":"quantitative","scale":{"domain":[-6.5,26.1875],"reverse":true,"nice":false,"zero":false},"axis":null}}},
{"data":{"name":"res"},"mark":{"type":"text","font":"Liberation Serif","fontSize":11.5,"align":"right","baseline":"middle","dx":-0.5,"color":"#222"},
"encoding":{"x":{"field":"c","type":"quantitative","scale":{"domain":[-6.719,43.867],"nice":false,"zero":false},"axis":null},"y":{"field":"l","type":"quantitative","scale":{"domain":[-6.5,26.1875],"reverse":true,"nice":false,"zero":false},"axis":null},"text":{"field":"a"}}},
{"data":{"name":"res"},"mark":{"type":"text","font":"Liberation Serif","fontSize":8,"align":"left","baseline":"middle","dx":0.5,"dy":3.5,"color":"#222"},
"encoding":{"x":{"field":"c","type":"quantitative","scale":{"domain":[-6.719,43.867],"nice":false,"zero":false},"axis":null},"y":{"field":"l","type":"quantitative","scale":{"domain":[-6.5,26.1875],"reverse":true,"nice":false,"zero":false},"axis":null},"text":{"field":"n"}}},
{"data":{"name":"res"},"transform":[{"filter":"datum.o==1"}],"mark":{"type":"point","shape":"circle","filled":false,"size":500,"stroke":"#e2302b","strokeWidth":1.7,"opacity":1,"xOffset":1},
"encoding":{"x":{"field":"c","type":"quantitative","scale":{"domain":[-6.719,43.867],"nice":false,"zero":false},"axis":null},"y":{"field":"l","type":"quantitative","scale":{"domain":[-6.5,26.1875],"reverse":true,"nice":false,"zero":false},"axis":null}}},
{"data":{"name":"boxes"},"mark":{"type":"rect","fillOpacity":0,"stroke":"#111","strokeWidth":2.6,"xOffset":-12,"x2Offset":12,"yOffset":-13,"y2Offset":9},
"encoding":{"x":{"field":"c1","type":"quantitative","scale":{"domain":[-6.719,43.867],"nice":false,"zero":false},"axis":null},"x2":{"field":"c2"},"y":{"field":"t","type":"quantitative","scale":{"domain":[-6.5,26.1875],"reverse":true,"nice":false,"zero":false},"axis":null},"y2":{"field":"b"}}}
]},
{"width":1185,"height":58,
"title":{"text":["LN40","n=19","20(19-20)"],"orient":"right","angle":0,"align":"left","baseline":"middle","anchor":"middle","offset":-23,"dy":-16,"frame":"group","font":"Liberation Serif","fontSize":15,"fontWeight":"normal","lineHeight":18,"color":"#222"},
"layer":[
{"data":{"name":"reg"},"mark":{"type":"rect","color":"#e4e4e7"},"encoding":{"x":{"field":"a","type":"quantitative","scale":{"domain":[-40.46,415.3],"nice":false,"zero":false},"axis":null},"x2":{"field":"b"},"y":{"datum":0,"type":"quantitative","scale":{"domain":[0,1.09],"nice":false,"zero":false}},"y2":{"datum":1.09}}},
{"data":{"values":[{}]},"mark":{"type":"rule","color":"#6e6e6e","strokeWidth":1.6},"encoding":{"x":{"datum":12.7,"type":"quantitative","scale":{"domain":[-40.46,415.3],"nice":false,"zero":false},"axis":null},"x2":{"datum":415.3},"y":{"datum":0,"type":"quantitative","scale":{"domain":[0,1.09],"nice":false,"zero":false}}}},
{"data":{"name":"bars"},"transform":[{"filter":"datum.s=='LN40'"}],"mark":{"type":"bar","width":5},"encoding":{"x":{"field":"p","type":"quantitative","scale":{"domain":[-40.46,415.3],"nice":false,"zero":false},"axis":null},"y":{"field":"y","type":"quantitative","scale":{"domain":[0,1.09],"nice":false,"zero":false},"axis":{"values":[0,0.1,0.2,0.3,0.4,0.5,0.6,0.7,0.8,0.9,1],"tickCount":11,"labelExpr":"abs(datum.value*10 - round(datum.value*5)*2) > 0.01 ? '' : (datum.value == 0 ? '0' : format(datum.value,'.1f'))","offset":-137,"tickSize":30,"tickColor":"#9a9a9a","tickWidth":1,"domainColor":"#222","domainWidth":4,"labelFont":"DejaVu Sans","labelFontWeight":"bold","labelFontSize":11.5,"labelColor":"#111","labelPadding":3,"labelOverlap":false,"labelFlush":false,"labelBound":false,"grid":false,"title":null}},"color":{"condition":{"test":"datum.v==1","value":"#8b91d9"},"value":"#3d4cb6"}}},
{"data":{"name":"reg"},"mark":{"type":"text","font":"Liberation Sans","fontWeight":"bold","fontSize":18,"align":"left","baseline":"bottom","dy":-2,"dx":-2,"color":"#111"},"encoding":{"x":{"field":"a","type":"quantitative","scale":{"domain":[-40.46,415.3],"nice":false,"zero":false},"axis":null},"y":{"datum":1.09,"type":"quantitative","scale":{"domain":[0,1.09],"nice":false,"zero":false}},"text":{"field":"r"}}}
]},
{"width":1185,"height":58,
"title":{"text":["DV117","n=16","19(17-19)"],"orient":"right","angle":0,"align":"left","baseline":"middle","anchor":"middle","offset":-23,"dy":-16,"frame":"group","font":"Liberation Serif","fontSize":15,"fontWeight":"normal","lineHeight":18,"color":"#222"},
"layer":[
{"data":{"name":"reg"},"mark":{"type":"rect","color":"#e4e4e7"},"encoding":{"x":{"field":"a","type":"quantitative","scale":{"domain":[-40.46,415.3],"nice":false,"zero":false},"axis":null},"x2":{"field":"b"},"y":{"datum":0,"type":"quantitative","scale":{"domain":[0,1.09],"nice":false,"zero":false}},"y2":{"datum":1.09}}},
{"data":{"values":[{}]},"mark":{"type":"rule","color":"#6e6e6e","strokeWidth":1.6},"encoding":{"x":{"datum":12.7,"type":"quantitative","scale":{"domain":[-40.46,415.3],"nice":false,"zero":false},"axis":null},"x2":{"datum":415.3},"y":{"datum":0,"type":"quantitative","scale":{"domain":[0,1.09],"nice":false,"zero":false}}}},
{"data":{"name":"bars"},"transform":[{"filter":"datum.s=='DV117'"}],"mark":{"type":"bar","width":5},"encoding":{"x":{"field":"p","type":"quantitative","scale":{"domain":[-40.46,415.3],"nice":false,"zero":false},"axis":null},"y":{"field":"y","type":"quantitative","scale":{"domain":[0,1.09],"nice":false,"zero":false},"axis":{"values":[0,0.1,0.2,0.3,0.4,0.5,0.6,0.7,0.8,0.9,1],"tickCount":11,"labelExpr":"abs(datum.value*10 - round(datum.value*5)*2) > 0.01 ? '' : (datum.value == 0 ? '0' : format(datum.value,'.1f'))","offset":-137,"tickSize":30,"tickColor":"#9a9a9a","tickWidth":1,"domainColor":"#222","domainWidth":4,"labelFont":"DejaVu Sans","labelFontWeight":"bold","labelFontSize":11.5,"labelColor":"#111","labelPadding":3,"labelOverlap":false,"labelFlush":false,"labelBound":false,"grid":false,"title":null}},"color":{"condition":{"test":"datum.v==1","value":"#8b91d9"},"value":"#3d4cb6"}}}
]},
{"width":1185,"height":58,
"title":{"text":["DLV34","n=15","19(17-20)"],"orient":"right","angle":0,"align":"left","baseline":"middle","anchor":"middle","offset":-23,"dy":-16,"frame":"group","font":"Liberation Serif","fontSize":15,"fontWeight":"normal","lineHeight":18,"color":"#222"},
"layer":[
{"data":{"name":"reg"},"mark":{"type":"rect","color":"#e4e4e7"},"encoding":{"x":{"field":"a","type":"quantitative","scale":{"domain":[-40.46,415.3],"nice":false,"zero":false},"axis":null},"x2":{"field":"b"},"y":{"datum":0,"type":"quantitative","scale":{"domain":[0,1.09],"nice":false,"zero":false}},"y2":{"datum":1.09}}},
{"data":{"values":[{}]},"mark":{"type":"rule","color":"#6e6e6e","strokeWidth":1.6},"encoding":{"x":{"datum":12.7,"type":"quantitative","scale":{"domain":[-40.46,415.3],"nice":false,"zero":false},"axis":null},"x2":{"datum":415.3},"y":{"datum":0,"type":"quantitative","scale":{"domain":[0,1.09],"nice":false,"zero":false}}}},
{"data":{"name":"bars"},"transform":[{"filter":"datum.s=='DLV34'"}],"mark":{"type":"bar","width":5},"encoding":{"x":{"field":"p","type":"quantitative","scale":{"domain":[-40.46,415.3],"nice":false,"zero":false},"axis":null},"y":{"field":"y","type":"quantitative","scale":{"domain":[0,1.09],"nice":false,"zero":false},"axis":{"values":[0,0.1,0.2,0.3,0.4,0.5,0.6,0.7,0.8,0.9,1],"tickCount":11,"labelExpr":"abs(datum.value*10 - round(datum.value*5)*2) > 0.01 ? '' : (datum.value == 0 ? '0' : format(datum.value,'.1f'))","offset":-137,"tickSize":30,"tickColor":"#9a9a9a","tickWidth":1,"domainColor":"#222","domainWidth":4,"labelFont":"DejaVu Sans","labelFontWeight":"bold","labelFontSize":11.5,"labelColor":"#111","labelPadding":3,"labelOverlap":false,"labelFlush":false,"labelBound":false,"grid":false,"title":null}},"color":{"condition":{"test":"datum.v==1","value":"#8b91d9"},"value":"#3d4cb6"}}}
]},
{"width":1185,"height":58,
"title":{"text":["DLV62","n=15","19(18-20)"],"orient":"right","angle":0,"align":"left","baseline":"middle","anchor":"middle","offset":-23,"dy":-16,"frame":"group","font":"Liberation Serif","fontSize":15,"fontWeight":"normal","lineHeight":18,"color":"#222"},
"layer":[
{"data":{"name":"reg"},"mark":{"type":"rect","color":"#e4e4e7"},"encoding":{"x":{"field":"a","type":"quantitative","scale":{"domain":[-40.46,415.3],"nice":false,"zero":false},"axis":null},"x2":{"field":"b"},"y":{"datum":0,"type":"quantitative","scale":{"domain":[0,1.09],"nice":false,"zero":false}},"y2":{"datum":1.09}}},
{"data":{"values":[{}]},"mark":{"type":"rule","color":"#6e6e6e","strokeWidth":1.6},"encoding":{"x":{"datum":12.7,"type":"quantitative","scale":{"domain":[-40.46,415.3],"nice":false,"zero":false},"axis":null},"x2":{"datum":415.3},"y":{"datum":0,"type":"quantitative","scale":{"domain":[0,1.09],"nice":false,"zero":false}}}},
{"data":{"name":"bars"},"transform":[{"filter":"datum.s=='DLV62'"}],"mark":{"type":"bar","width":5},"encoding":{"x":{"field":"p","type":"quantitative","scale":{"domain":[-40.46,415.3],"nice":false,"zero":false},"axis":null},"y":{"field":"y","type":"quantitative","scale":{"domain":[0,1.09],"nice":false,"zero":false},"axis":{"values":[0,0.1,0.2,0.3,0.4,0.5,0.6,0.7,0.8,0.9,1],"tickCount":11,"labelExpr":"abs(datum.value*10 - round(datum.value*5)*2) > 0.01 ? '' : (datum.value == 0 ? '0' : format(datum.value,'.1f'))","offset":-137,"tickSize":30,"tickColor":"#9a9a9a","tickWidth":1,"domainColor":"#222","domainWidth":4,"labelFont":"DejaVu Sans","labelFontWeight":"bold","labelFontSize":11.5,"labelColor":"#111","labelPadding":3,"labelOverlap":false,"labelFlush":false,"labelBound":false,"grid":false,"title":"Percentage","titleFont":"Liberation Serif","titleFontSize":34,"titleFontWeight":"normal","titleColor":"#111","titleAngle":270,"titleX":-97,"titleY":38,"titleAlign":"center","titleBaseline":"middle"}},"color":{"condition":{"test":"datum.v==1","value":"#8b91d9"},"value":"#3d4cb6"}}}
]},
{"width":1185,"height":58,
"title":{"text":["DLV92","n=17","18(16-19)"],"orient":"right","angle":0,"align":"left","baseline":"middle","anchor":"middle","offset":-23,"dy":-16,"frame":"group","font":"Liberation Serif","fontSize":15,"fontWeight":"normal","lineHeight":18,"color":"#222"},
"layer":[
{"data":{"name":"reg"},"mark":{"type":"rect","color":"#e4e4e7"},"encoding":{"x":{"field":"a","type":"quantitative","scale":{"domain":[-40.46,415.3],"nice":false,"zero":false},"axis":null},"x2":{"field":"b"},"y":{"datum":0,"type":"quantitative","scale":{"domain":[0,1.09],"nice":false,"zero":false}},"y2":{"datum":1.09}}},
{"data":{"values":[{}]},"mark":{"type":"rule","color":"#6e6e6e","strokeWidth":1.6},"encoding":{"x":{"datum":12.7,"type":"quantitative","scale":{"domain":[-40.46,415.3],"nice":false,"zero":false},"axis":null},"x2":{"datum":415.3},"y":{"datum":0,"type":"quantitative","scale":{"domain":[0,1.09],"nice":false,"zero":false}}}},
{"data":{"name":"bars"},"transform":[{"filter":"datum.s=='DLV92'"}],"mark":{"type":"bar","width":5},"encoding":{"x":{"field":"p","type":"quantitative","scale":{"domain":[-40.46,415.3],"nice":false,"zero":false},"axis":null},"y":{"field":"y","type":"quantitative","scale":{"domain":[0,1.09],"nice":false,"zero":false},"axis":{"values":[0,0.1,0.2,0.3,0.4,0.5,0.6,0.7,0.8,0.9,1],"tickCount":11,"labelExpr":"abs(datum.value*10 - round(datum.value*5)*2) > 0.01 ? '' : (datum.value == 0 ? '0' : format(datum.value,'.1f'))","offset":-137,"tickSize":30,"tickColor":"#9a9a9a","tickWidth":1,"domainColor":"#222","domainWidth":4,"labelFont":"DejaVu Sans","labelFontWeight":"bold","labelFontSize":11.5,"labelColor":"#111","labelPadding":3,"labelOverlap":false,"labelFlush":false,"labelBound":false,"grid":false,"title":null}},"color":{"condition":{"test":"datum.v==1","value":"#8b91d9"},"value":"#3d4cb6"}}}
]},
{"width":1185,"height":58,
"title":{"text":["DLV121","n=15.","17(16-18)"],"orient":"right","angle":0,"align":"left","baseline":"middle","anchor":"middle","offset":-23,"dy":-16,"frame":"group","font":"Liberation Serif","fontSize":15,"fontWeight":"normal","lineHeight":18,"color":"#222"},
"layer":[
{"data":{"name":"reg"},"mark":{"type":"rect","color":"#e4e4e7"},"encoding":{"x":{"field":"a","type":"quantitative","scale":{"domain":[-40.46,415.3],"nice":false,"zero":false},"axis":null},"x2":{"field":"b"},"y":{"datum":0,"type":"quantitative","scale":{"domain":[0,1.09],"nice":false,"zero":false}},"y2":{"datum":1.09}}},
{"data":{"values":[{}]},"mark":{"type":"rule","color":"#6e6e6e","strokeWidth":1.6},"encoding":{"x":{"datum":12.7,"type":"quantitative","scale":{"domain":[-40.46,415.3],"nice":false,"zero":false},"axis":null},"x2":{"datum":415.3},"y":{"datum":0,"type":"quantitative","scale":{"domain":[0,1.09],"nice":false,"zero":false}}}},
{"data":{"name":"bars"},"transform":[{"filter":"datum.s=='DLV121'"}],"mark":{"type":"bar","width":5},"encoding":{"x":{"field":"p","type":"quantitative","scale":{"domain":[-40.46,415.3],"nice":false,"zero":false},"axis":null},"y":{"field":"y","type":"quantitative","scale":{"domain":[0,1.09],"nice":false,"zero":false},"axis":{"values":[0,0.1,0.2,0.3,0.4,0.5,0.6,0.7,0.8,0.9,1],"tickCount":11,"labelExpr":"abs(datum.value*10 - round(datum.value*5)*2) > 0.01 ? '' : (datum.value == 0 ? '0' : format(datum.value,'.1f'))","offset":-137,"tickSize":30,"tickColor":"#9a9a9a","tickWidth":1,"domainColor":"#222","domainWidth":4,"labelFont":"DejaVu Sans","labelFontWeight":"bold","labelFontSize":11.5,"labelColor":"#111","labelPadding":3,"labelOverlap":false,"labelFlush":false,"labelBound":false,"grid":false,"title":null}},"color":{"condition":{"test":"datum.v==1","value":"#8b91d9"},"value":"#3d4cb6"}}}
]},
{"width":1185,"height":58,
"title":{"text":["FDDV13","n=16","17(16-17)"],"orient":"right","angle":0,"align":"left","baseline":"middle","anchor":"middle","offset":-23,"dy":-16,"frame":"group","font":"Liberation Serif","fontSize":15,"fontWeight":"normal","lineHeight":18,"color":"#222"},
"layer":[
{"data":{"name":"reg"},"mark":{"type":"rect","color":"#e4e4e7"},"encoding":{"x":{"field":"a","type":"quantitative","scale":{"domain":[-40.46,415.3],"nice":false,"zero":false},"axis":{"values":[193,237,246],"labelAngle":90,"domain":false,"ticks":false,"grid":false,"labelFont":"Liberation Serif","labelFontSize":17,"labelColor":"#111","labelPadding":4,"labelOverlap":false,"labelFlush":false,"title":"Position","titleFont":"Liberation Serif","titleFontSize":33,"titleFontWeight":"normal","titleColor":"#111","titleX":677,"titleY":71,"titleAlign":"center","titleBaseline":"alphabetic"}},"x2":{"field":"b"},"y":{"datum":0,"type":"quantitative","scale":{"domain":[0,1.09],"nice":false,"zero":false}},"y2":{"datum":1.09}}},
{"data":{"values":[{}]},"mark":{"type":"rule","color":"#6e6e6e","strokeWidth":1.6},"encoding":{"x":{"datum":12.7,"type":"quantitative","scale":{"domain":[-40.46,415.3],"nice":false,"zero":false}},"x2":{"datum":415.3},"y":{"datum":0,"type":"quantitative","scale":{"domain":[0,1.09],"nice":false,"zero":false}}}},
{"data":{"name":"bars"},"transform":[{"filter":"datum.s=='FDDV13'"}],"mark":{"type":"bar","width":5},"encoding":{"x":{"field":"p","type":"quantitative","scale":{"domain":[-40.46,415.3],"nice":false,"zero":false}},"y":{"field":"y","type":"quantitative","scale":{"domain":[0,1.09],"nice":false,"zero":false},"axis":{"values":[0,0.1,0.2,0.3,0.4,0.5,0.6,0.7,0.8,0.9,1],"tickCount":11,"labelExpr":"abs(datum.value*10 - round(datum.value*5)*2) > 0.01 ? '' : (datum.value == 0 ? '0' : format(datum.value,'.1f'))","offset":-137,"tickSize":30,"tickColor":"#9a9a9a","tickWidth":1,"domainColor":"#222","domainWidth":4,"labelFont":"DejaVu Sans","labelFontWeight":"bold","labelFontSize":11.5,"labelColor":"#111","labelPadding":3,"labelOverlap":false,"labelFlush":false,"labelBound":false,"grid":false,"title":null}},"color":{"condition":{"test":"datum.v==1","value":"#8b91d9"},"value":"#3d4cb6"}}}
]},
{"width":1295,"height":374,"data":{"name":"cap"},
"layer":[
{"transform":[{"filter":"datum.k=='L'"}],"mark":{"type":"text","align":"left","baseline":"middle","dx":27,"font":"Open Sans","fontSize":18.2,"color":"#231f20"},"encoding":{"x":{"datum":0,"type":"quantitative","scale":{"domain":[0,1]},"axis":null},"y":{"field":"i","type":"quantitative","scale":{"domain":[-2.427,11.659],"reverse":true,"nice":false,"zero":false},"axis":null},"text":{"field":"t"}}},
{"transform":[{"filter":"datum.k=='b0'"}],"mark":{"type":"text","align":"left","baseline":"middle","dx":27,"font":"Open Sans","fontWeight":"bold","fontSize":18.2,"color":"#231f20"},"encoding":{"x":{"datum":0,"type":"quantitative","scale":{"domain":[0,1]},"axis":null},"y":{"field":"i","type":"quantitative","scale":{"domain":[-2.427,11.659],"reverse":true,"nice":false,"zero":false},"axis":null},"text":{"field":"t"}}},
{"transform":[{"filter":"datum.k=='r1'"}],"mark":{"type":"text","align":"left","baseline":"middle","dx":88,"font":"Open Sans","fontSize":18.2,"color":"#231f20"},"encoding":{"x":{"datum":0,"type":"quantitative","scale":{"domain":[0,1]},"axis":null},"y":{"field":"i","type":"quantitative","scale":{"domain":[-2.427,11.659],"reverse":true,"nice":false,"zero":false},"axis":null},"text":{"field":"t"}}},
{"transform":[{"filter":"datum.k=='b1'"}],"mark":{"type":"text","align":"left","baseline":"middle","dx":386,"font":"Open Sans","fontWeight":"bold","fontSize":18.2,"color":"#231f20"},"encoding":{"x":{"datum":0,"type":"quantitative","scale":{"domain":[0,1]},"axis":null},"y":{"field":"i","type":"quantitative","scale":{"domain":[-2.427,11.659],"reverse":true,"nice":false,"zero":false},"axis":null},"text":{"field":"t"}}},
{"transform":[{"filter":"datum.k=='r2'"}],"mark":{"type":"text","align":"left","baseline":"middle","dx":401,"font":"Open Sans","fontSize":18.2,"color":"#231f20"},"encoding":{"x":{"datum":0,"type":"quantitative","scale":{"domain":[0,1]},"axis":null},"y":{"field":"i","type":"quantitative","scale":{"domain":[-2.427,11.659],"reverse":true,"nice":false,"zero":false},"axis":null},"text":{"field":"t"}}},
{"transform":[{"filter":"datum.k=='sub'"}],"mark":{"type":"text","align":"left","baseline":"middle","dx":1113,"dy":5,"font":"Open Sans","fontSize":12,"color":"#231f20"},"encoding":{"x":{"datum":0,"type":"quantitative","scale":{"domain":[0,1]},"axis":null},"y":{"field":"i","type":"quantitative","scale":{"domain":[-2.427,11.659],"reverse":true,"nice":false,"zero":false},"axis":null},"text":{"field":"t"}}},
{"transform":[{"filter":"datum.k=='r3'"}],"mark":{"type":"text","align":"left","baseline":"middle","dx":1143,"font":"Open Sans","fontSize":18.2,"color":"#231f20"},"encoding":{"x":{"datum":0,"type":"quantitative","scale":{"domain":[0,1]},"axis":null},"y":{"field":"i","type":"quantitative","scale":{"domain":[-2.427,11.659],"reverse":true,"nice":false,"zero":false},"axis":null},"text":{"field":"t"}}},
{"transform":[{"filter":"datum.k=='b2'"}],"mark":{"type":"text","align":"left","baseline":"middle","dx":1125,"font":"Open Sans","fontWeight":"bold","fontSize":18.2,"color":"#231f20"},"encoding":{"x":{"datum":0,"type":"quantitative","scale":{"domain":[0,1]},"axis":null},"y":{"field":"i","type":"quantitative","scale":{"domain":[-2.427,11.659],"reverse":true,"nice":false,"zero":false},"axis":null},"text":{"field":"t"}}},
{"transform":[{"filter":"datum.k=='r4'"}],"mark":{"type":"text","align":"left","baseline":"middle","dx":1139,"font":"Open Sans","fontSize":18.2,"color":"#231f20"},"encoding":{"x":{"datum":0,"type":"quantitative","scale":{"domain":[0,1]},"axis":null},"y":{"field":"i","type":"quantitative","scale":{"domain":[-2.427,11.659],"reverse":true,"nice":false,"zero":false},"axis":null},"text":{"field":"t"}}},
{"transform":[{"filter":"datum.k=='url'"}],"mark":{"type":"text","align":"left","baseline":"middle","dx":110,"font":"Open Sans","fontSize":18.2,"color":"#2a6ab5"},"encoding":{"x":{"datum":0,"type":"quantitative","scale":{"domain":[0,1]},"axis":null},"y":{"field":"i","type":"quantitative","scale":{"domain":[-2.427,11.659],"reverse":true,"nice":false,"zero":false},"axis":null},"text":{"field":"t"}}},
{"transform":[{"filter":"datum.k=='r5'"}],"mark":{"type":"text","align":"left","baseline":"middle","dx":690,"font":"Open Sans","fontSize":18.2,"color":"#231f20"},"encoding":{"x":{"datum":0,"type":"quantitative","scale":{"domain":[0,1]},"axis":null},"y":{"field":"i","type":"quantitative","scale":{"domain":[-2.427,11.659],"reverse":true,"nice":false,"zero":false},"axis":null},"text":{"field":"t"}}}
]}
]
}
